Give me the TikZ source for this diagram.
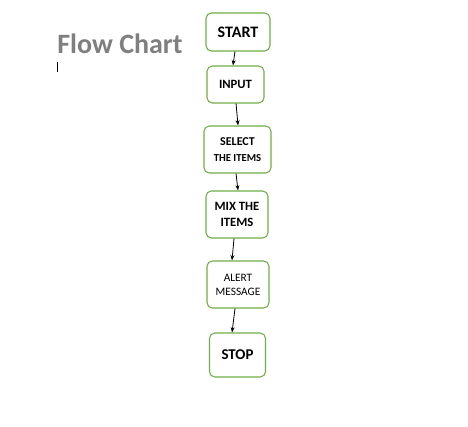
\documentclass[tikz,border=0pt]{standalone}
\usepackage{fontspec}
\setmainfont{Carlito}
\usepackage{tikz}
\usetikzlibrary{positioning, arrows.meta}
\definecolor{boxgreen}{HTML}{70AD47}
\definecolor{titlegray}{HTML}{7F7F7F}

\tikzset{
	flowbox/.style={draw=boxgreen, line width=0.8pt, rounded corners=4pt, align=center, inner sep=0pt, font=\bfseries},
	flowarrow/.style={-{Stealth[length=4pt,width=3pt]}, line width=0.6pt}
}

\begin{document}
\begin{tikzpicture}[x=0.75pt, y=-0.75pt]
	\useasboundingbox (0,0) rectangle (468,427);
	\node[font=\bfseries\fontsize{21}{24}\selectfont, text=titlegray] (title) at (120,44) {Flow Chart};
	\draw[line width=0.6pt] (57,62) -- (57,72);

	\node[flowbox, minimum width=48pt, minimum height=28.5pt, font=\bfseries\fontsize{12}{14}\selectfont] (start) at (238,32) {START};
	\node[flowbox, minimum width=42.75pt, minimum height=27.75pt, font=\bfseries\fontsize{9.5}{11}\selectfont] (input) at (235.5,84.5) {INPUT};
	\node[flowbox, minimum width=50.25pt, minimum height=35.25pt, font=\bfseries\fontsize{9}{12}\selectfont] (select) at (237.5,149.5) {SELECT\\{\fontsize{8}{10}\selectfont THE ITEMS}};
	\node[flowbox, minimum width=46.5pt, minimum height=35.25pt, font=\bfseries\fontsize{9.5}{12}\selectfont] (mix) at (237,214.5) {MIX THE\\ITEMS};
	\node[flowbox, minimum width=46.5pt, minimum height=35.25pt, font=\fontsize{8.5}{10.5}\selectfont] (alert) at (238,284.5) {ALERT\\MESSAGE};
	\node[flowbox, minimum width=42pt, minimum height=33pt, font=\bfseries\fontsize{11.2}{13}\selectfont] (stop) at (237.5,355) {STOP};

	% arrows
	\draw[flowarrow] ([xshift=-2.25pt]start.south) -- ([xshift=-1.9pt]input.north);
	\draw[flowarrow] ([xshift=0.4pt]input.south) -- ([xshift=0.4pt]select.north);
	\draw[flowarrow] ([xshift=-1.1pt]select.south) -- ([xshift=0.75pt]mix.north);
	\draw[flowarrow] ([xshift=-2.25pt]mix.south) -- ([xshift=-4.5pt]alert.north);
	\draw[flowarrow] ([xshift=-2.25pt]alert.south) -- ([xshift=-4.1pt]stop.north);
\end{tikzpicture}
\end{document}
